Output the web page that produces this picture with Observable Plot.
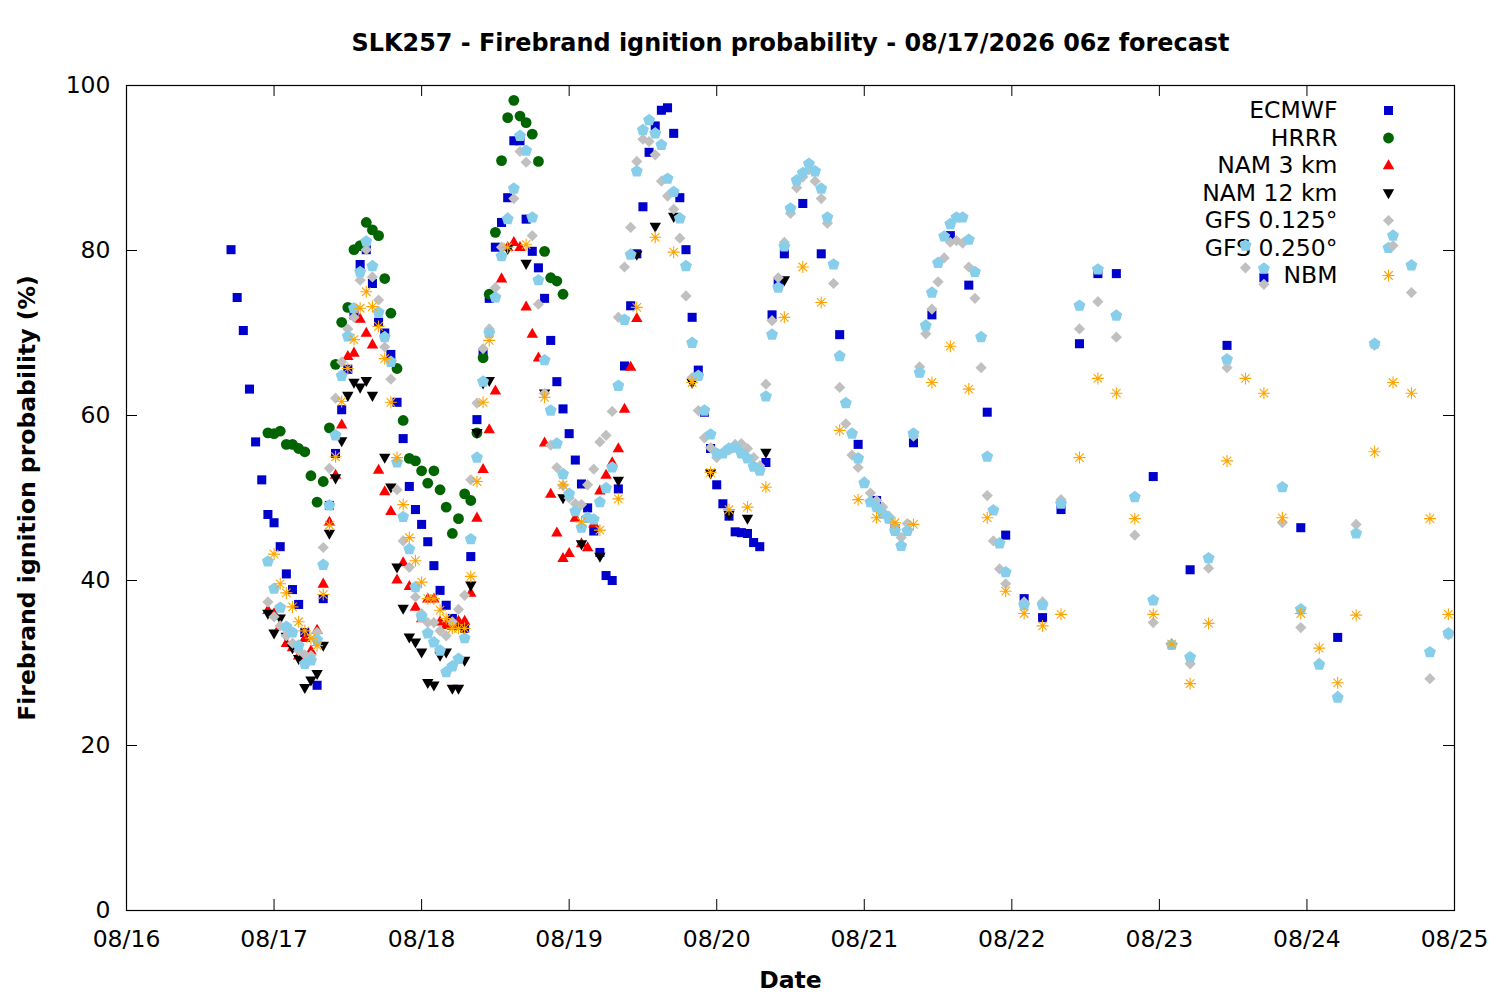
<!DOCTYPE html>
<html><head><meta charset="utf-8">
<script src="https://cdn.jsdelivr.net/npm/d3@7"></script>
<script src="https://cdn.jsdelivr.net/npm/@observablehq/plot@0.6"></script>
<style>body{margin:0;background:#fff}</style>
</head><body><div id="chart"></div>
<script>
// Time grid helper (hours since 08/16 00z)
function hoursRange(a, b, step = 1) { const r = []; for (let h = a; h <= b; h += step) r.push(h); return r; }

const titleText = "SLK257 - Firebrand ignition probability - 08/17/2026 06z forecast";
const xLabel = "Date";
const yLabel = "Firebrand ignition probability (%)";
const xTickHours = [0, 24, 48, 72, 96, 120, 144, 168, 192, 216];
const xTickLabels = ["08/16", "08/17", "08/18", "08/19", "08/20", "08/21", "08/22", "08/23", "08/24", "08/25"];
const yTicks = [0, 20, 40, 60, 80, 100];
const seriesNames = ["ECMWF", "HRRR", "NAM 3 km", "NAM 12 km", "GFS 0.125°", "GFS 0.250°", "NBM"];

const ecmwfHours = [...hoursRange(17, 29), ...hoursRange(31, 107), ...hoursRange(110, 161, 3), ...hoursRange(167, 197, 6)];
const ecmwfValues = [80.1,74.3,70.3,63.2,56.8,52.2,48,47,44.1,40.8,38.9,37.1,33.7,
  27.3,37.8,49.1,55.4,60.7,65.6,72.2,78.3,80.1,76,71.3,70,67.4,61.6,57.2,51.4,48.6,46.8,44.7,41.8,38.8,37,35.4,34.6,34.2,42.9,59.5,
  67.6,74.2,80.4,83.4,86.4,93.3,93.3,83.8,79.9,77.9,74.2,69.1,64.1,60.8,57.8,54.6,51.7,48.8,46,43.4,40.6,40,51.1,66,73.3,79.6,85.3,
  91.9,95.1,97,97.3,94.2,86.4,80.1,71.9,65.5,60.4,56,51.6,49.3,47.8,45.9,45.8,45.7,44.6,44.1,54.3,72.2,76.1,79.6,
  85.7,79.6,69.8,56.5,49.7,46.3,56.7,72.2,81.8,75.8,60.4,45.5,37.8,35.5,48.6,68.7,77.2,77.2,
  52.6,41.3,68.5,76.7,46.4,33.1];

const hrrrHours = hoursRange(23, 71);
const hrrrValues = [57.9,57.8,58.1,56.5,56.5,56,55.6,52.7,49.5,52,58.5,66.2,71.3,73.1,80.1,80.6,83.4,82.5,81.8,76.6,
  72.4,65.7,59.4,54.8,54.5,53.3,51.8,53.3,51,48.9,45.7,47.5,50.5,49.7,57.9,67,74.7,82.2,90.9,96.1,
  98.2,96.3,95.5,94.1,90.8,79.9,76.7,76.3,74.7];

const nam3Hours = hoursRange(23, 83);
const nam3Values = [36.4,36,34.5,32.4,31.9,30.9,33,31.5,34,39.6,47.1,52.8,58.9,67.2,67.6,71.7,70,68.6,53.4,50.8,
  48.4,40.1,42.2,39.3,36.8,35.4,37.8,37.8,35,34.6,34.5,35.1,35.1,38.5,47.6,53.5,58.3,63,76.6,80.4,
  81,80.4,73.2,69.9,67,56.7,50.5,45.8,42.7,43.3,47.6,44.5,44,46.9,50.9,52.8,54.3,56,60.8,65.9,71.8];

const nam12Hours = [...hoursRange(23, 40), ...hoursRange(42, 59), ...hoursRange(62, 107, 3)];
const nam12Values = [36,33.6,35.4,33.2,31.8,30.5,27,27.9,28.7,32.1,45.7,52.4,56.9,62.4,64,63.4,64.2,62.4,
  54.9,51.3,41.6,36.6,33.1,32.5,31.3,27.6,27.3,30.9,31.3,26.9,26.9,30.3,39.4,57.9,63.9,64.2,
  80.2,78.4,62.7,50,44.4,42.9,52.1,79.5,82.9,84.1,64,53,48,47.5,55.5,76.4];

const gfsHours = [...hoursRange(23, 143), ...hoursRange(146, 215, 3)];
const gfs0125Values = [37.4,35.6,34.5,33.3,32.4,31.5,31,30.9,33.7,44,53.6,62.1,66.5,70.5,71.9,76.4,80.1,76.8,74,68.3,
  64.4,51,44.8,41.6,38,36,34.9,34.9,33.9,33.3,35,36.5,38.2,52.2,61.5,68.1,70.5,75.5,80.4,84,
  86.3,92,90.7,81.8,73.5,62.7,56.4,53.7,51.5,50,49.3,49.2,51.6,53.5,56.8,57.6,60.5,71.9,78,82.8,
  90.8,93.5,93.2,91.6,88.4,86.6,85,81.5,74.5,64.6,60.6,57.3,56.1,54.9,55.5,55.8,56.5,56.6,56,54.9,
  53.9,63.8,71.5,76.7,81,84.5,87.6,88.9,89.8,88.4,86.3,83.3,76,63.4,59,55.2,53.7,52,50.6,49.7,
  48.9,47.8,46.6,45.2,46.9,57.5,65.9,69.9,72.9,76.2,79.1,81,81.2,80.9,78,74.2,65.8,50.3,44.8,41.4,39.6,
  37.4,37.4,49.8,70.5,73.8,69.5,45.5,34.9,32.3,29.9,41.5,65.8,77.9,75.9,47,34.3,30,26,46.8,68.5,80.6,74.9,28.1,33.4];
const gfs0250Values = [42.3,39,36.7,34.4,33.7,32.1,29.9,30.3,32.8,41.9,49.1,57.6,64.8,69.6,73,77.4,81.1,78.1,72.5,69.5,
  66.5,54.3,47.7,43.8,39.2,35.6,33.6,32.5,31.5,28.9,29.6,30.5,33,45,54.9,64.1,70,74.3,79.3,83.8,
  87.5,93.9,92.1,84,76.4,66.7,60.6,56.6,52.9,50.5,48.4,46.4,47.6,47.4,49.5,51.2,53.7,63.6,71.6,79.5,
  89.6,94.6,95.8,94.2,92.8,88.7,87.1,83.9,78.1,68.8,64.8,60.6,57.7,55.4,55.4,56,56.1,55.4,54.8,53.8,
  53.3,62.3,69.8,75.5,80.5,85.1,88.5,89.4,90.5,89.6,87.5,84,78.3,67.2,61.5,57.8,54.8,51.8,49.5,48.9,
  48.1,47.5,46,44.2,46,57.8,65.2,70.9,74.9,78.5,81.7,83.2,84,84,81.3,77.4,69.5,55,48.5,44.5,41,
  37,37,49.3,73.3,77.7,72.1,50.1,37.6,32.2,30.7,42.7,66.8,80.6,77.8,51.3,36.5,29.8,25.8,45.7,68.7,81.8,78.2,31.3,33.6];

const nbmHours = [...hoursRange(24, 59), ...hoursRange(62, 215, 3)];
const nbmValues = [43.2,39.6,38.5,36.8,35,33.9,33,32.1,38.3,46.7,55,61.7,65.7,69.2,73,75,73.2,70.8,66.9,61.6,
  54.9,49.2,45.2,42.4,39.8,37.8,37.8,36.4,35.4,34.2,34.2,34.2,40.5,52,61.6,69.1,
  80.4,80.7,62.2,51.6,47.1,46.1,49.9,73.1,81.6,79.8,64,53.1,48.6,48.9,51.3,71.9,78,73.7,58.2,49.8,
  47.6,47,46.8,64,68.4,63.2,47.6,38.7,36,34.5,35.9,54.9,64.5,62.7,47.5,35.9,32.3,27.5,34.8,54.5,
  64.5,62.7,47.6,36,31.8,27.6,35.8,55.6,64,62.7,47.5,35.9];

function rows(hours, values) {
  const n = Math.min(hours.length, values.length);
  if (hours.length !== values.length) console.warn("length mismatch", hours.length, values.length);
  return d3.range(n).map(i => ({h: hours[i], v: values[i]}));
}

// custom symbols (gnuplot-like)
const R = size => Math.sqrt(size / Math.PI);
const triUp = {draw(c, s) { const r = R(s); c.moveTo(0, -r); c.lineTo(r * 0.92, r * 0.62); c.lineTo(-r * 0.92, r * 0.62); c.closePath(); }};
const triDown = {draw(c, s) { const r = R(s); c.moveTo(0, r); c.lineTo(r * 0.92, -r * 0.62); c.lineTo(-r * 0.92, -r * 0.62); c.closePath(); }};
const diamond = {draw(c, s) { const r = R(s); c.moveTo(0, -r); c.lineTo(r, 0); c.lineTo(0, r); c.lineTo(-r, 0); c.closePath(); }};
const pentagon = {draw(c, s) { const r = R(s); for (let i = 0; i < 5; i++) { const a = -Math.PI / 2 + i * 2 * Math.PI / 5; const x = r * Math.cos(a), y = r * Math.sin(a); if (i) c.lineTo(x, y); else c.moveTo(x, y); } c.closePath(); }};
const star8 = {draw(c, s) { const r = R(s); const d = r * Math.SQRT1_2; c.moveTo(-r, 0); c.lineTo(r, 0); c.moveTo(0, -r); c.lineTo(0, r); c.moveTo(-d, -d); c.lineTo(d, d); c.moveTo(-d, d); c.lineTo(d, -d); }};

const styles = [
  {symbol: "square", r: 5.1, fill: "#0000cc"},
  {symbol: "circle", r: 5.4, fill: "#006400"},
  {symbol: triUp, r: 6.2, fill: "#ff0000"},
  {symbol: triDown, r: 6.2, fill: "#000000"},
  {symbol: diamond, r: 5.6, fill: "#c0c0c0"},
  {symbol: pentagon, r: 6.3, fill: "#87ceeb"},
  {symbol: star8, r: 6.0, fill: "none", stroke: "#ffa500", strokeWidth: 1.1}
];
const data = [
  rows(ecmwfHours, ecmwfValues),
  rows(hrrrHours, hrrrValues),
  rows(nam3Hours, nam3Values),
  rows(nam12Hours, nam12Values),
  rows(gfsHours, gfs0125Values),
  rows(gfsHours, gfs0250Values),
  rows(nbmHours, nbmValues)
];

const FS = 23.5;
const W = 1500, H = 1000, mL = 126, mR = 46, mT = 85, mB = 90;
const pw = W - mL - mR, ph = H - mT - mB, tick = 11;

const legendMarks = seriesNames.flatMap((name, i) => [
  Plot.text([name], {text: d => d, frameAnchor: "top-right", textAnchor: "end", lineAnchor: "middle", dx: -117, dy: 25 + 27.5 * i, fontSize: FS}),
  Plot.dot([name], {frameAnchor: "top-right", dx: -66, dy: 25 + 27.5 * i, symbol: styles[i].symbol, r: styles[i].r, fill: styles[i].fill, stroke: styles[i].stroke || "none", strokeWidth: styles[i].strokeWidth || 0})
]);

const dataMarks = data.map((rs, i) => Plot.dot(rs, {x: "h", y: "v", symbol: styles[i].symbol, r: styles[i].r, fill: styles[i].fill, stroke: styles[i].stroke || "none", strokeWidth: styles[i].strokeWidth || 0}));

const chart = Plot.plot({
  width: W, height: H,
  marginLeft: mL, marginRight: mR, marginTop: mT, marginBottom: mB,
  style: {fontFamily: "'DejaVu Sans', sans-serif", fontSize: FS + "px", background: "white", color: "black"},
  x: {domain: [0, 216]},
  y: {domain: [0, 100]},
  marks: [
    Plot.axisX(xTickHours, {anchor: "bottom", tickSize: 0, tickPadding: 20, tickFormat: d => xTickLabels[xTickHours.indexOf(d)], label: null, fontSize: FS}),
    Plot.axisY(yTicks, {anchor: "left", tickSize: 0, tickPadding: 16, label: null, fontSize: FS}),
    Plot.ruleX(xTickHours, {insetTop: ph - tick, stroke: "black", strokeWidth: 1}),
    Plot.ruleX(xTickHours, {insetBottom: ph - tick, stroke: "black", strokeWidth: 1}),
    Plot.ruleY(yTicks, {insetRight: pw - tick, stroke: "black", strokeWidth: 1}),
    Plot.ruleY(yTicks, {insetLeft: pw - tick, stroke: "black", strokeWidth: 1}),
    ...legendMarks,
    ...dataMarks,
    Plot.frame({stroke: "black", strokeWidth: 1.2}),
    Plot.text([titleText], {text: d => d, frameAnchor: "top", dy: -42, lineAnchor: "middle", fontWeight: "bold", fontSize: 23.9}),
    Plot.text([xLabel], {text: d => d, frameAnchor: "bottom", dy: 70, lineAnchor: "middle", fontWeight: "bold", fontSize: FS}),
    Plot.text([yLabel], {text: d => d, frameAnchor: "left", dx: -99, rotate: -90, textAnchor: "middle", lineAnchor: "middle", fontWeight: "bold", fontSize: FS})
  ]
});
document.getElementById("chart").appendChild(chart);
</script></body></html>
